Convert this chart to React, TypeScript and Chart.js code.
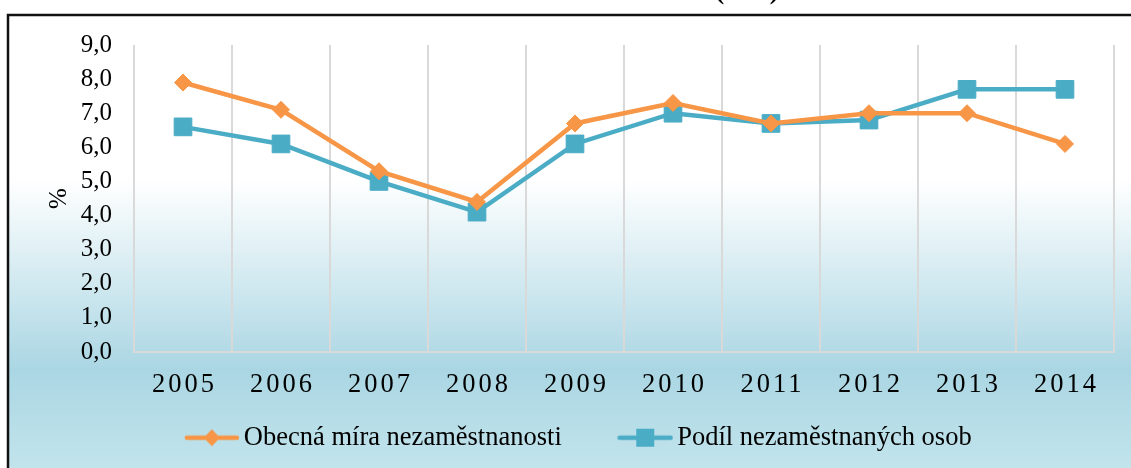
import React, { useEffect, useRef } from 'react';
import { Chart, registerables } from 'chart.js';

Chart.register(...registerables);

const YEARS = ['2005', '2006', '2007', '2008', '2009', '2010', '2011', '2012', '2013', '2014'];
const OBECNA_MIRA = [7.9, 7.1, 5.3, 4.4, 6.7, 7.3, 6.7, 7.0, 7.0, 6.1];
const PODIL_NEZAM = [6.6, 6.1, 5.0, 4.1, 6.1, 7.0, 6.7, 6.8, 7.7, 7.7];
const Y_TICK_LABELS = ['0,0', '1,0', '2,0', '3,0', '4,0', '5,0', '6,0', '7,0', '8,0', '9,0'];
const SERIES_NAMES = ['Obecná míra nezaměstnanosti', 'Podíl nezaměstnaných osob'];
const Y_TITLE = '%';
const TOP_TITLE = '(v %)';

const ORANGE = '#F79646';
const BLUE = '#4BACC6';
const FONT = 'Liberation Serif, "Times New Roman", serif';

function makeLegendImg(color: string, shape: 'diamond' | 'square', lineLen: number) {
  const c = document.createElement('canvas');
  c.width = 56;
  c.height = 20;
  const g = c.getContext('2d')!;
  g.strokeStyle = color;
  g.lineWidth = 4.5;
  g.lineCap = 'round';
  g.beginPath();
  g.moveTo(28 - lineLen / 2 + 2, 10);
  g.lineTo(28 + lineLen / 2 - 2, 10);
  g.stroke();
  g.fillStyle = color;
  if (shape === 'diamond') {
    g.beginPath();
    g.moveTo(28, 1.5);
    g.lineTo(36, 10);
    g.lineTo(28, 18.5);
    g.lineTo(20, 10);
    g.closePath();
    g.fill();
  } else {
    g.fillRect(19, 1, 18, 18);
  }
  return c;
}

const framePlugin = {
  id: 'framePlugin',
  beforeDraw(chart: any) {
    const ctx = chart.ctx as CanvasRenderingContext2D;
    const W = chart.width;
    const H = chart.height;
    ctx.save();
    ctx.fillStyle = '#ffffff';
    ctx.fillRect(0, 0, W, H);
    const grad = ctx.createLinearGradient(0, 15, 0, H);
    grad.addColorStop(0, '#ffffff');
    grad.addColorStop((180 - 15) / (H - 15), '#ffffff');
    grad.addColorStop((370 - 15) / (H - 15), '#aad6e3');
    grad.addColorStop(1, '#c2e4ec');
    ctx.fillStyle = grad;
    ctx.fillRect(8, 15, W - 8, H - 15);
    ctx.strokeStyle = '#111111';
    ctx.lineWidth = 2.5;
    ctx.beginPath();
    ctx.moveTo(W + 5, 15);
    ctx.lineTo(8, 15);
    ctx.lineTo(8, H + 5);
    ctx.stroke();
    // top title, mostly cut off above the picture
    ctx.fillStyle = '#000000';
    ctx.font = 'bold 26px ' + FONT;
    ctx.textAlign = 'center';
    ctx.textBaseline = 'alphabetic';
    ctx.fillText(TOP_TITLE, 747, -1);
    ctx.restore();

    const s: any = chart.scales.x;
    if (s && !s._lsPatched) {
      const orig = s.drawLabels.bind(s);
      s._computeLabelArea = () => undefined;
      s.drawLabels = (area: any) => {
        const c2: any = chart.ctx;
        const prev = c2.letterSpacing;
        c2.letterSpacing = '3px';
        orig(area);
        c2.letterSpacing = prev || '0px';
      };
      s._lsPatched = true;
    }
  },
};

export default function App() {
  const ref = useRef<HTMLCanvasElement | null>(null);

  useEffect(() => {
    document.body.style.margin = '0';
    const legendImgs = [
      makeLegendImg(ORANGE, 'diamond', 54),
      makeLegendImg(BLUE, 'square', 55),
    ];
    const chart = new Chart(ref.current!, {
      type: 'line',
      data: {
        labels: YEARS,
        datasets: [
          {
            label: SERIES_NAMES[0],
            data: OBECNA_MIRA,
            borderColor: ORANGE,
            backgroundColor: ORANGE,
            borderWidth: 4.5,
            pointStyle: 'rectRot',
            pointRadius: 8.5,
            pointBorderWidth: 1,
            pointBackgroundColor: ORANGE,
            pointBorderColor: ORANGE,
            tension: 0,
          },
          {
            label: SERIES_NAMES[1],
            data: PODIL_NEZAM,
            borderColor: BLUE,
            backgroundColor: BLUE,
            borderWidth: 4.5,
            pointStyle: 'rect',
            pointRadius: 12.5,
            pointBorderWidth: 1,
            pointBackgroundColor: BLUE,
            pointBorderColor: BLUE,
            tension: 0,
          },
        ],
      },
      options: {
        responsive: false,
        animation: false,
        layout: { padding: { left: 50.75, right: 17, top: 45, bottom: 7.05 } },
        plugins: {
          tooltip: { enabled: false },
          legend: {
            position: 'bottom',
            labels: {
              usePointStyle: true,
              pointStyleWidth: 37.5,
              padding: 64.75,
              color: '#000000',
              font: { family: FONT, size: 26.5 },
              generateLabels: (ch: any) => {
                const items = (Chart.defaults.plugins.legend.labels as any).generateLabels(ch);
                items.forEach((it: any, i: number) => {
                  it.pointStyle = legendImgs[i];
                  it.fontColor = '#000000';
                });
                return items;
              },
            },
          },
        },
        scales: {
          x: {
            type: 'category',
            offset: true,
            grid: { display: true, offset: true, color: '#d9d9d9', lineWidth: 2, drawTicks: false },
            border: { display: true, color: '#d9d9d9', width: 2 },
            ticks: {
              color: '#000000',
              font: { family: FONT, size: 26.5 },
              padding: 17,
              labelOffset: 1.5,
              maxRotation: 0,
              autoSkip: false,
            },
            afterFit: (s: any) => {
              s.height = 7.7;
            },
          },
          y: {
            min: 0,
            max: 9,
            grid: { display: false, drawTicks: false },
            border: { display: false },
            ticks: {
              stepSize: 1,
              color: '#000000',
              font: { family: FONT, size: 25 },
              padding: 22,
              callback: (_v: any, i: number) => Y_TICK_LABELS[i],
            },
            title: {
              display: true,
              text: Y_TITLE,
              color: '#000000',
              font: { family: FONT, size: 25 },
              padding: { top: -6.75, bottom: 0 },
            },
            afterFit: (s: any) => {
              s.width = 83.25;
            },
          },
        },
      },
      plugins: [framePlugin],
    });
    return () => chart.destroy();
  }, []);

  return (
    <div style={{ width: 1131, height: 468 }}>
      <canvas ref={ref} width={1131} height={468} style={{ display: 'block' }} />
    </div>
  );
}
